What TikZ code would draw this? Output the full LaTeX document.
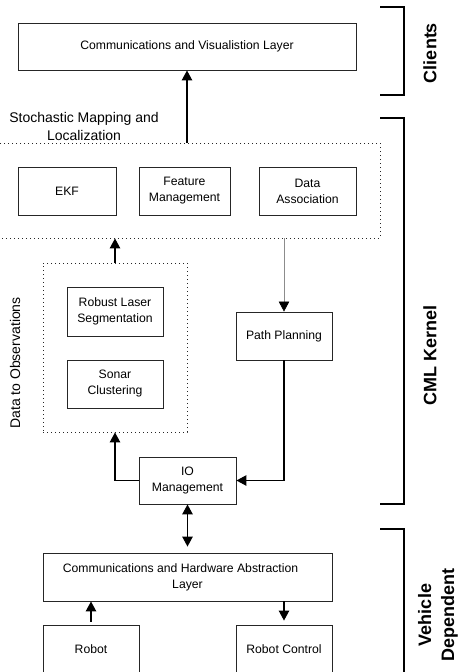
\documentclass[tikz,border=0pt]{standalone}
\usepackage{fontspec}
\setmainfont{Liberation Sans}
\usetikzlibrary{arrows.meta}
\newcommand{\boxfnt}{\fontsize{12.2}{16}\selectfont}
\newcommand{\labfnt}{\fontsize{14}{18}\selectfont}
\newcommand{\grpfnt}{\fontsize{18}{23}\selectfont\bfseries}
\begin{document}
\begin{tikzpicture}[x=1pt,y=-1pt,
  box/.style={draw=black!85, line width=0.9pt, inner sep=0pt, align=center, font=\boxfnt},
  dotbox/.style={draw=black!85, line width=0.9pt, dash pattern=on 1.2pt off 2.8pt, inner sep=0pt},
  arr/.style={line width=1.2pt, -{Triangle[length=10pt,width=10.5pt]}},
  darr/.style={line width=1.2pt, {Triangle[length=10pt,width=10.5pt]}-{Triangle[length=10pt,width=10.5pt]}},
  garr/.style={line width=0.6pt, draw=black!45, -{Triangle[length=10pt,width=10.5pt,black]}},
  brk/.style={line width=1.4pt},
  grp/.style={font=\grpfnt, rotate=90, align=center, inner sep=0pt}
]
\useasboundingbox (0,0) rectangle (458,672);
\clip (0,0) rectangle (458,672);

% nodes
\node[box, minimum width=338, minimum height=47] (vis) at (187,46.5) {Communications and Visualistion Layer};
\node[dotbox, minimum width=390, minimum height=95] (sml) at (185,190.5) {};
\node[box, minimum width=98, minimum height=48] (ekf) at (67,191) {EKF};
\node[box, minimum width=91, minimum height=48] (feat) at (184.5,191) {Feature\\Management};
\node[box, minimum width=97, minimum height=48] (data) at (307.5,191) {Data\\Association};
\node[font=\labfnt, align=center, inner sep=0pt] (smllab) at (84,126) {Stochastic Mapping and\\Localization};

\node[dotbox, minimum width=144, minimum height=169] (dto) at (115,347.5) {};
\node[box, minimum width=96, minimum height=49] (rls) at (115,311.5) {Robust Laser\\Segmentation};
\node[box, minimum width=96, minimum height=48] (sonar) at (115,384) {Sonar\\Clustering};
\node[font=\labfnt, rotate=90, inner sep=0pt] (dtolab) at (15,363) {Data to Observations};

\node[box, minimum width=96, minimum height=48] (path) at (284,336) {Path Planning};
\node[box, minimum width=97, minimum height=47] (io) at (187.5,480.5) {IO\\Management};
\node[box, minimum width=289, minimum height=48] (hw) at (187.5,577) {Communications and Hardware Abstraction\hspace*{14pt}\\Layer};
\node[box, minimum width=96, minimum height=48] (robot) at (91,649) {Robot};
\node[box, minimum width=96, minimum height=48] (rctl) at (284,649) {Robot Control};

% connectors
\draw[arr] (vis.south |- sml.north) -- (vis.south);
\draw[arr] (dto.north) -- (dto.north |- sml.south);
\draw[garr] (path.north |- sml.south) -- (path.north);
\draw[arr] (io.west) -| (dto.south);
\draw[arr] (path.south) |- (io.east);
\draw[darr, shorten >=6pt] (io.south) -- (hw.north);
\draw[arr, shorten <=3pt] (robot.north) -- (robot.north |- hw.south);
\draw[arr, shorten >=4pt] (rctl.north |- hw.south) -- (rctl.north);

% brackets
\coordinate (c1) at (380,7); \coordinate (c2) at (380,95);
\draw[brk] (c1) -- ++(24,0) -- ++(0,88) -- (c2);
\coordinate (k1) at (380,118); \coordinate (k2) at (380,504);
\draw[brk] (k1) -- ++(24,0) -- ++(0,386) -- (k2);
\coordinate (v1) at (380,529); \coordinate (v2) at (404,690);
\draw[brk] (v1) -- ++(24,0) -- (v2);

\node[grp] (clients) at (430,53) {Clients};
\node[grp] (cml) at (430,355) {CML Kernel};
\node[grp] (veh) at (438,615) {Vehicle\\Dependent};
\end{tikzpicture}
\end{document}
